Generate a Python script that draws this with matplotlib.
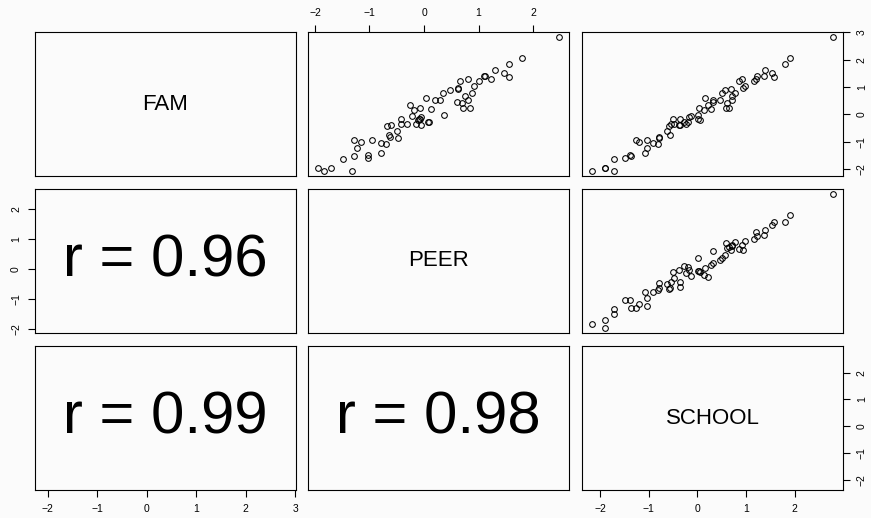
import numpy as np
import matplotlib
matplotlib.use("Agg")
import matplotlib.pyplot as plt

# standardized school-level scores, one entry per school
names = ["FAM", "PEER", "SCHOOL"]
fam = [2.82, 2.05, 1.86, 1.37, 1.50, 1.63, 1.40, 1.40, 1.29, 1.21,
       1.04, 1.28, 0.98, 1.22, 0.78, 0.51, 0.66, 0.94, 0.23, 0.23,
       0.41, 0.88, 0.77, 0.54, 0.45, 0.51, 0.21, 0.33, 0.60, 0.17,
       -0.20, 0.25, -0.01, -0.18, -0.05, -0.10, -0.28, -0.37, -0.29, -0.38,
       -0.17, -0.36, -0.18, -0.75, -0.44, -0.61, -0.82, -0.88, -1.10, -1.04,
       -0.93, -1.24, -1.42, -1.02, -0.93, -1.48, -1.51, -1.59, -1.62, -2.06,
       -1.95, -1.97, -2.06, -0.40, -0.36]
peer = [2.48, 1.80, 1.55, 1.55, 1.47, 1.30, 1.12, 1.10, 1.23, 1.01,
        0.92, 0.80, 0.62, 0.66, 0.88, 0.80, 0.75, 0.62, 0.72, 0.85,
        0.70, 0.47, 0.35, 0.30, 0.61, 0.20, 0.13, -0.26, 0.03, -0.19,
        -0.11, -0.08, 0.36, -0.08, -0.22, -0.05, 0.08, -0.14, 0.10, -0.05,
        -0.42, -0.31, -0.09, -0.64, -0.67, -0.49, -0.62, -0.48, -0.70, -0.78,
        -0.96, -1.22, -0.78, -1.15, -1.29, -1.02, -1.29, -1.02, -1.48, -1.32,
        -1.95, -1.70, -1.83, -0.60, -0.42]
school = [2.79, 1.90, 1.79, 1.58, 1.54, 1.39, 1.37, 1.23, 1.20, 1.17,
          0.97, 0.91, 0.93, 0.86, 0.77, 0.72, 0.70, 0.69, 0.65, 0.59,
          0.60, 0.56, 0.51, 0.47, 0.31, 0.33, 0.28, 0.21, 0.16, 0.14,
          0.05, 0.03, 0.02, 0.01, -0.13, -0.18, -0.20, -0.24, -0.28, -0.37,
          -0.36, -0.47, -0.50, -0.57, -0.59, -0.62, -0.79, -0.78, -0.81, -0.92,
          -1.03, -1.04, -1.08, -1.20, -1.26, -1.38, -1.37, -1.49, -1.72, -1.72,
          -1.89, -1.89, -2.17, -0.36, -0.55]

cols = [np.array(fam), np.array(peer), np.array(school)]

plt.rcParams['font.family'] = ['Liberation Sans', 'DejaVu Sans']
bg = '#fbfbfb'

W, H = 871, 518
lefts = [35, 308, 582]
tops = [32, 189, 346]
pw, ph = 261, 144


def lims(v):
    r = v.max() - v.min()
    return v.min() - 0.04 * r, v.max() + 0.04 * r


def int_ticks(lo, hi):
    return np.arange(np.ceil(lo), np.floor(hi) + 1)


fig = plt.figure(figsize=(W / 100, H / 100), dpi=100, facecolor=bg)

for i in range(3):
    for j in range(3):
        ax = fig.add_axes([lefts[j] / W, 1 - (tops[i] + ph) / H, pw / W, ph / H])
        ax.set_facecolor(bg)
        xl, yl = lims(cols[j]), lims(cols[i])
        ax.set_xlim(xl)
        ax.set_ylim(yl)
        for s in ax.spines.values():
            s.set_linewidth(0.8)
            s.set_color('black')
        ax.set_xticks([])
        ax.set_yticks([])

        if i == j:
            ax.text(0.5, 0.5, names[i], transform=ax.transAxes,
                    ha='center', va='center', fontsize=16)
        elif i < j:
            ax.plot(cols[j], cols[i], 'o', ms=4.1, mfc='none',
                    mec='black', mew=0.75)
        else:
            r = np.corrcoef(cols[i], cols[j])[0, 1]
            ax.text(0.5, 0.5, "r = %.2f" % r, transform=ax.transAxes,
                    ha='center', va='center', fontsize=43)

        # axes alternate sides like a pairs plot
        if (i == 0 and j == 1) or (i == 2 and j != 1):
            ax.set_xticks(int_ticks(*xl))
            ax.xaxis.set_ticks_position('top' if i == 0 else 'bottom')
            ax.tick_params(axis='x', length=5, width=0.8, pad=5, labelsize=7.5)
        if (j == 0 and i == 1) or (j == 2 and i != 1):
            ax.set_yticks(int_ticks(*yl))
            ax.yaxis.set_ticks_position('left' if j == 0 else 'right')
            ax.tick_params(axis='y', length=5, width=0.8, pad=5, labelsize=7.5)
            for lab in ax.get_yticklabels():
                lab.set_rotation(90)
                lab.set_va('center')

fig.savefig("out.png", dpi=100, facecolor=bg)
